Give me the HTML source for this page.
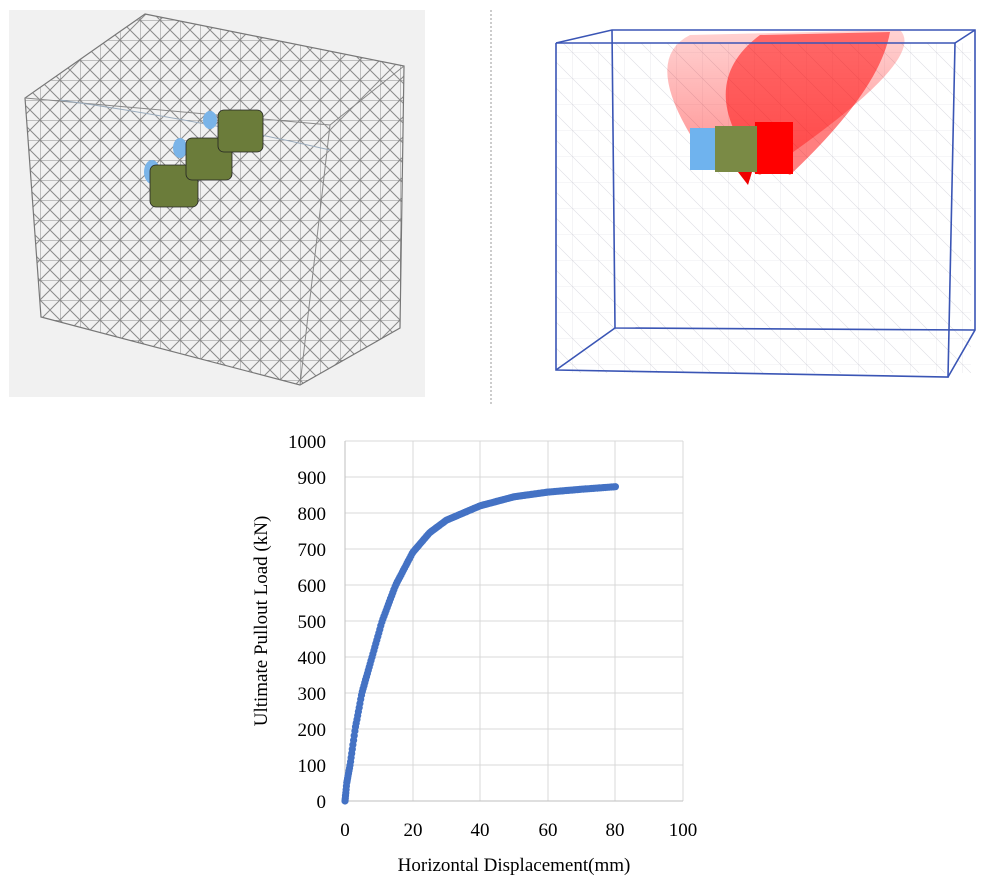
<!DOCTYPE html>
<html><head><style>
body{margin:0;width:994px;height:884px;background:#fff;overflow:hidden}
svg{position:absolute;left:0;top:0}
text{font-family:"Liberation Serif",serif;fill:#000}
</style></head><body>
<svg width="994" height="884" viewBox="0 0 994 884">
<defs>
<pattern id="mesh" width="20" height="20" patternUnits="userSpaceOnUse">
<path d="M0 0H20M0 0V20M0 0L20 20M20 0L0 20" stroke="#8a8a8a" stroke-width="1" fill="none"/>
</pattern>
<pattern id="lmesh" width="26" height="26" patternUnits="userSpaceOnUse">
<path d="M0 0H26M0 0V26M0 0L26 26" stroke="#dcdce2" stroke-width="0.6" fill="none"/>
</pattern>
<linearGradient id="red" x1="0" y1="1" x2="0" y2="0">
<stop offset="0" stop-color="#f00" stop-opacity="0.9"/><stop offset="1" stop-color="#f00" stop-opacity="0.35"/>
</linearGradient>
</defs>
<rect x="9" y="10" width="416" height="387" fill="#f1f1f1"/>
<polygon points="145,14 404,66 400,328 300,385 41,317 25,98" fill="url(#mesh)" stroke="#777" stroke-width="1.2"/>
<polyline points="25,98 330,125 404,66" fill="none" stroke="#888" stroke-width="1"/>
<line x1="330" y1="125" x2="300" y2="385" stroke="#888"/>
<path d="M60 100 Q200 120 330 150" stroke="#9ab" fill="none"/>
<g stroke="#222" stroke-width="0.8">
<ellipse cx="152" cy="172" rx="8" ry="12" fill="#7ab4e8" stroke="none"/>
<ellipse cx="180" cy="148" rx="7" ry="10" fill="#7ab4e8" stroke="none"/>
<ellipse cx="210" cy="120" rx="7" ry="9" fill="#7ab4e8" stroke="none"/>
<rect x="150" y="165" width="48" height="42" rx="6" fill="#6b7c3a"/>
<rect x="186" y="138" width="46" height="42" rx="6" fill="#6b7c3a"/>
<rect x="218" y="110" width="45" height="42" rx="6" fill="#6b7c3a"/>
</g>
<line x1="491" y1="10" x2="491" y2="405" stroke="#999" stroke-dasharray="2,2"/>
<rect x="556" y="43" width="415" height="330" fill="url(#lmesh)"/>
<path d="M700 150 Q640 60 690 35 L900 30 Q930 60 760 175 Z" fill="url(#red)" opacity="0.5"/>
<path d="M745 150 Q700 80 760 35 L890 32 Q880 90 790 175 Z" fill="#f00" opacity="0.5"/>
<rect x="755" y="122" width="38" height="52" fill="#f00"/>
<rect x="690" y="128" width="26" height="42" fill="#6fb3ee"/>
<rect x="715" y="126" width="42" height="46" fill="#7a8a45"/>
<path d="M738 172 L748 185 L752 172Z" fill="#e00"/>
<g stroke="#3a55b5" stroke-width="1.6" fill="none">
<polyline points="556,43 556,370 948,377 955,43 556,43"/>
<polyline points="556,43 612,30 975,30 975,330 948,377"/>
<polyline points="955,43 975,30"/>
<polyline points="612,30 615,328 975,330"/>
<line x1="556" y1="370" x2="615" y2="328"/>
</g>
<g stroke="#d9d9d9" stroke-width="1">
<line x1="345" y1="441" x2="683" y2="441"/><line x1="345" y1="477" x2="683" y2="477"/>
<line x1="345" y1="513" x2="683" y2="513"/><line x1="345" y1="549" x2="683" y2="549"/>
<line x1="345" y1="585" x2="683" y2="585"/><line x1="345" y1="621" x2="683" y2="621"/>
<line x1="345" y1="657" x2="683" y2="657"/><line x1="345" y1="693" x2="683" y2="693"/>
<line x1="345" y1="729" x2="683" y2="729"/><line x1="345" y1="765" x2="683" y2="765"/>
<line x1="413" y1="441" x2="413" y2="801"/><line x1="480" y1="441" x2="480" y2="801"/>
<line x1="548" y1="441" x2="548" y2="801"/><line x1="615" y1="441" x2="615" y2="801"/>
<line x1="683" y1="441" x2="683" y2="801"/>
</g>
<line x1="345" y1="801" x2="683" y2="801" stroke="#bfbfbf"/>
<line x1="345" y1="441" x2="345" y2="801" stroke="#bfbfbf"/>
<g font-size="19" text-anchor="end">
<text x="326" y="448">1000</text><text x="326" y="484">900</text><text x="326" y="520">800</text>
<text x="326" y="556">700</text><text x="326" y="592">600</text><text x="326" y="628">500</text>
<text x="326" y="664">400</text><text x="326" y="700">300</text><text x="326" y="736">200</text>
<text x="326" y="772">100</text><text x="326" y="808">0</text>
</g>
<g font-size="19" text-anchor="middle">
<text x="345" y="836">0</text><text x="413" y="836">20</text><text x="480" y="836">40</text>
<text x="548" y="836">60</text><text x="615" y="836">80</text><text x="683" y="836">100</text>
<text x="514" y="871">Horizontal Displacement(mm)</text>
<text transform="translate(267,621) rotate(-90)">Ultimate Pullout Load (kN)</text>
</g>
<g id="dots" fill="#4472c4"></g>
</svg>
<script>
var X=[0,0.5,1.5,3,5,8,11,15,20,25,30,40,50,60,70,80];
var Y=[0,50,100,200,300,400,500,600,690,745,780,820,845,858,866,873];
function f(x){for(var k=0;k<X.length-1;k++){if(x<=X[k+1]){var t=(x-X[k])/(X[k+1]-X[k]);return Y[k]+t*(Y[k+1]-Y[k]);}}return 873;}
var g=document.getElementById('dots'),s='';
for(var i=0;i<=200;i++){var x=80*Math.pow(i/200,1.5);
s+='<circle cx="'+(345+x*3.38).toFixed(1)+'" cy="'+(801-f(x)*0.36).toFixed(1)+'" r="3.6"/>';}
g.innerHTML=s;
</script>
</body></html>
